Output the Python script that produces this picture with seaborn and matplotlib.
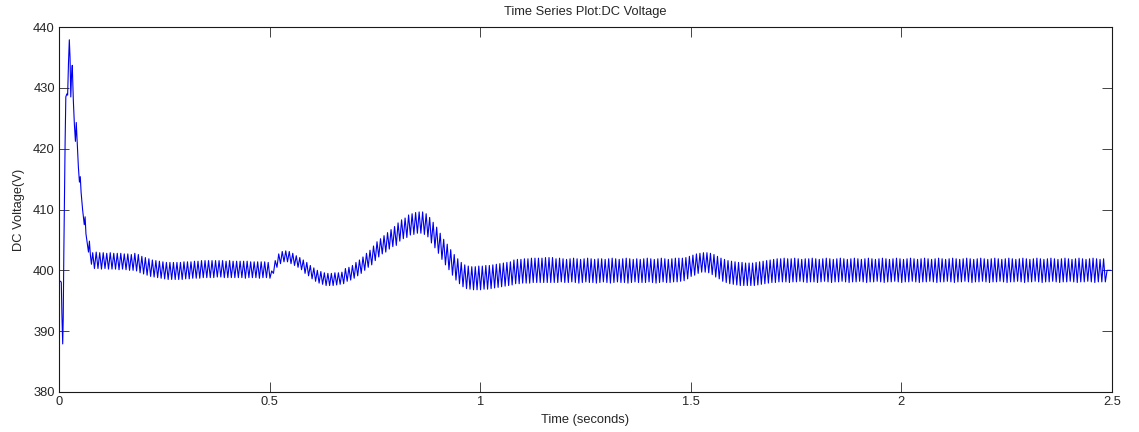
import numpy as np
import pandas as pd
import matplotlib
matplotlib.use("Agg")
import matplotlib.pyplot as plt
import seaborn as sns

# ---------------- data ----------------
title = "Time Series Plot:DC Voltage"
x_label = "Time (seconds)"
y_label = "DC Voltage(V)"
x_ticks = [0, 0.5, 1, 1.5, 2, 2.5]
x_tick_labels = ["0", "0.5", "1", "1.5", "2", "2.5"]
y_ticks = [380, 390, 400, 410, 420, 430, 440]

# start-up transient (seconds, volts)
t_transient = [0.000, 0.004, 0.0055, 0.0068, 0.0088, 0.0100, 0.0115, 0.0130,
               0.0145, 0.0162, 0.0185, 0.0205, 0.0225, 0.0245, 0.0262, 0.0280,
               0.0297, 0.0315, 0.0340, 0.0365, 0.0390, 0.0410, 0.0430, 0.0460,
               0.0485, 0.0505, 0.0525, 0.0560, 0.0600, 0.0620, 0.0640, 0.0670,
               0.0700, 0.0722, 0.0745, 0.0770]
v_transient = [398.2, 398.2, 398.0, 393.0, 387.9, 392.0, 403.0, 412.0,
               421.0, 428.5, 429.0, 428.8, 434.0, 437.9, 435.0, 428.5,
               432.0, 433.7, 428.0, 424.0, 421.2, 424.3, 421.5, 417.0,
               414.5, 415.4, 412.8, 410.0, 407.5, 408.8, 406.0, 404.5,
               403.0, 404.8, 402.5, 401.0]

# ripple section: successive peak / trough values, one every half ripple period
ripple_start = 0.08          # s
ripple_half_period = 1 / 240  # s (120 Hz ripple)
v_ripple = [
    # 0.08 - 0.18
    402.9, 400.3, 403.0, 400.3, 402.9, 400.2, 402.9, 400.3, 402.8, 400.2, 402.9, 400.2,
    402.8, 400.2, 402.8, 400.1, 402.8, 400.2, 402.7, 400.1, 402.7, 400.0, 402.6, 400.0,
    # 0.18 - 0.28
    402.8, 399.9, 402.6, 399.6, 402.3, 399.4, 402.1, 399.2, 401.9, 399.0, 401.7, 398.9,
    401.6, 398.8, 401.5, 398.7, 401.4, 398.6, 401.3, 398.5, 401.3, 398.5, 401.3, 398.5,
    # 0.28 - 0.38
    401.3, 398.5, 401.3, 398.5, 401.4, 398.6, 401.4, 398.6, 401.4, 398.7, 401.5, 398.7,
    401.5, 398.7, 401.6, 398.8, 401.6, 398.8, 401.6, 398.8, 401.6, 398.8, 401.6, 398.9,
    # 0.38 - 0.48
    401.6, 398.9, 401.6, 398.8, 401.5, 398.8, 401.6, 398.8, 401.5, 398.8, 401.5, 398.8,
    401.5, 398.8, 401.5, 398.7, 401.5, 398.8, 401.4, 398.8, 401.4, 398.8, 401.4, 398.7,
    # 0.48 - 0.58
    401.4, 398.8, 401.4, 398.8, 401.3, 398.7, 399.9, 399.5, 401.6, 400.5, 402.7, 401.1,
    403.1, 401.4, 403.2, 401.4, 403.1, 401.1, 402.8, 400.8, 402.4, 400.5, 402.1, 400.1,
    # 0.58 - 0.68
    401.7, 399.5, 401.3, 399.1, 400.8, 398.6, 400.4, 398.2, 400.0, 397.9, 399.8, 397.7,
    399.6, 397.5, 399.5, 397.5, 399.5, 397.5, 399.6, 397.6, 399.6, 397.7, 399.7, 397.8,
    # 0.68 - 0.78
    400.3, 398.2, 400.5, 398.4, 400.8, 398.7, 401.3, 399.1, 401.7, 399.5, 402.2, 400.0,
    402.8, 400.5, 403.3, 400.9, 404.0, 401.6, 404.7, 402.2, 405.2, 402.7, 405.7, 403.0,
    # 0.78 - 0.88
    406.2, 403.5, 406.7, 403.9, 407.2, 404.1, 407.8, 404.8, 408.3, 405.2, 408.6, 405.4,
    409.1, 405.8, 409.3, 405.9, 409.5, 406.1, 409.6, 406.1, 409.6, 405.9, 409.3, 405.5,
    # 0.88 - 0.98
    408.7, 404.5, 407.9, 403.7, 407.1, 402.8, 406.1, 401.8, 405.1, 400.9, 404.3, 400.1,
    403.4, 399.2, 402.6, 398.4, 401.9, 397.8, 401.3, 397.3, 400.9, 397.0, 400.7, 396.9,
    # 0.98 - 1.08
    400.6, 396.8, 400.6, 396.8, 400.7, 396.8, 400.7, 396.9, 400.8, 396.9, 400.8, 397.0,
    400.9, 397.1, 401.0, 397.2, 401.1, 397.3, 401.2, 397.4, 401.3, 397.5, 401.4, 397.6,
    # 1.08 - 1.18
    401.7, 397.8, 401.8, 397.8, 401.8, 397.9, 401.9, 397.9, 401.9, 397.9, 402.0, 398.0,
    402.0, 398.0, 402.0, 398.0, 402.0, 398.0, 402.1, 398.0, 402.1, 398.0, 402.1, 398.0,
    # 1.18 - 1.28
    401.9, 398.0, 402.0, 398.1, 401.9, 398.0, 401.8, 398.0, 401.9, 398.1, 402.0, 398.0,
    401.9, 397.9, 401.8, 398.0, 401.9, 398.1, 402.0, 398.0, 401.9, 398.0, 401.8, 397.9,
    # 1.28 - 1.38
    401.9, 398.0, 401.9, 398.1, 401.8, 398.0, 401.9, 397.9, 402.0, 398.0, 401.9, 398.1,
    401.8, 398.0, 401.9, 398.0, 402.0, 397.9, 401.9, 398.0, 401.8, 398.1, 401.9, 398.0,
    # 1.38 - 1.48
    401.8, 398.0, 401.9, 398.0, 402.0, 398.1, 401.9, 398.0, 401.8, 397.9, 401.9, 398.0,
    402.0, 398.1, 401.9, 398.0, 401.8, 398.0, 401.9, 398.1, 402.0, 398.1, 402.0, 398.2,
    # 1.48 - 1.58
    402.0, 398.3, 402.1, 398.6, 402.3, 399.0, 402.5, 399.2, 402.7, 399.5, 402.8, 399.7,
    402.9, 399.7, 402.9, 399.6, 402.8, 399.3, 402.6, 398.9, 402.3, 398.6, 402.0, 398.2,
    # 1.58 - 1.68
    401.8, 398.0, 401.6, 397.8, 401.5, 397.7, 401.4, 397.6, 401.3, 397.5, 401.3, 397.5,
    401.2, 397.5, 401.2, 397.5, 401.2, 397.5, 401.3, 397.6, 401.4, 397.7, 401.5, 397.8,
    # 1.68 - 1.78
    401.6, 397.9, 401.7, 398.0, 401.8, 398.0, 401.9, 398.1, 401.9, 398.1, 402.0, 398.1,
    401.9, 398.0, 401.9, 398.1, 402.0, 398.1, 401.9, 398.2, 401.8, 398.1, 401.9, 398.0,
    # 1.78 - 1.88
    401.9, 398.1, 402.0, 398.1, 401.9, 398.0, 401.8, 398.1, 401.9, 398.2, 402.0, 398.1,
    401.9, 398.0, 401.8, 398.1, 401.9, 398.1, 402.0, 398.2, 401.9, 398.1, 401.8, 398.0,
    # 1.88 - 1.98
    401.9, 398.1, 402.0, 398.1, 401.9, 398.2, 401.8, 398.1, 401.9, 398.0, 402.0, 398.1,
    401.9, 398.1, 401.8, 398.2, 401.9, 398.1, 402.0, 398.0, 401.9, 398.1, 401.8, 398.1,
    # 1.98 - 2.08
    401.9, 398.2, 402.0, 398.1, 401.9, 398.0, 401.8, 398.1, 401.9, 398.1, 402.0, 398.2,
    401.9, 398.1, 401.8, 398.0, 401.9, 398.1, 402.0, 398.1, 401.9, 398.2, 401.8, 398.1,
    # 2.08 - 2.18
    401.9, 398.0, 402.0, 398.1, 401.9, 398.1, 401.8, 398.2, 401.9, 398.1, 402.0, 398.0,
    401.9, 398.1, 401.8, 398.1, 401.9, 398.2, 402.0, 398.1, 401.9, 398.0, 401.8, 398.1,
    # 2.18 - 2.28
    401.9, 398.1, 402.0, 398.2, 401.9, 398.1, 401.8, 398.0, 401.9, 398.1, 402.0, 398.1,
    401.9, 398.2, 401.8, 398.1, 401.9, 398.0, 402.0, 398.1, 401.9, 398.1, 401.8, 398.2,
    # 2.28 - 2.38
    401.9, 398.1, 402.0, 398.0, 401.9, 398.1, 401.8, 398.1, 401.9, 398.2, 402.0, 398.1,
    401.9, 398.0, 401.8, 398.1, 401.9, 398.1, 402.0, 398.2, 401.9, 398.1, 401.8, 398.0,
    # 2.38 - 2.48
    401.9, 398.1, 402.0, 398.1, 401.9, 398.2, 401.8, 398.1, 401.9, 398.0, 402.0, 398.1,
    401.9, 398.1, 401.8, 398.2, 401.9, 398.1, 402.0, 398.0, 401.9, 398.1, 401.8, 398.1,
    # 2.48 - 2.50
    401.9, 398.1, 400.0, 400.0, 400.0,
]

# ---------------- build the frame ----------------
t_ripple = ripple_start + np.arange(len(v_ripple)) * ripple_half_period
df = pd.DataFrame({
    "t": np.concatenate([np.array(t_transient), t_ripple]),
    "v": np.concatenate([np.array(v_transient), np.array(v_ripple)]),
})

# ---------------- style ----------------
sns.set_style("ticks")
plt.rcParams["font.family"] = ["Liberation Sans", "DejaVu Sans"]

fig = plt.figure(figsize=(11.39, 4.32), dpi=100)
ax = fig.add_axes([59 / 1139, 1 - 392 / 432, (1112 - 59) / 1139, (392 - 27) / 432])

sns.lineplot(data=df, x="t", y="v", ax=ax, color="#0000ee", linewidth=0.8,
             estimator=None, sort=False)

ax.set_xlim(0, 2.5)
ax.set_ylim(380, 440)
ax.set_xticks(x_ticks)
ax.set_xticklabels(x_tick_labels)
ax.set_yticks(y_ticks)
ax.tick_params(direction="in", length=7, width=0.6, top=True, right=True,
               labelsize=9.3, pad=3, colors="#262626")
for s in ax.spines.values():
    s.set_linewidth(0.8)
    s.set_color("#1a1a1a")

ax.set_title(title, fontsize=9.3, pad=9, color="#262626")
ax.set_xlabel(x_label, fontsize=9.3, labelpad=4, color="#262626")
ax.set_ylabel(y_label, fontsize=9.3, labelpad=6, color="#262626")

fig.savefig("out.png", dpi=100, facecolor="white")
